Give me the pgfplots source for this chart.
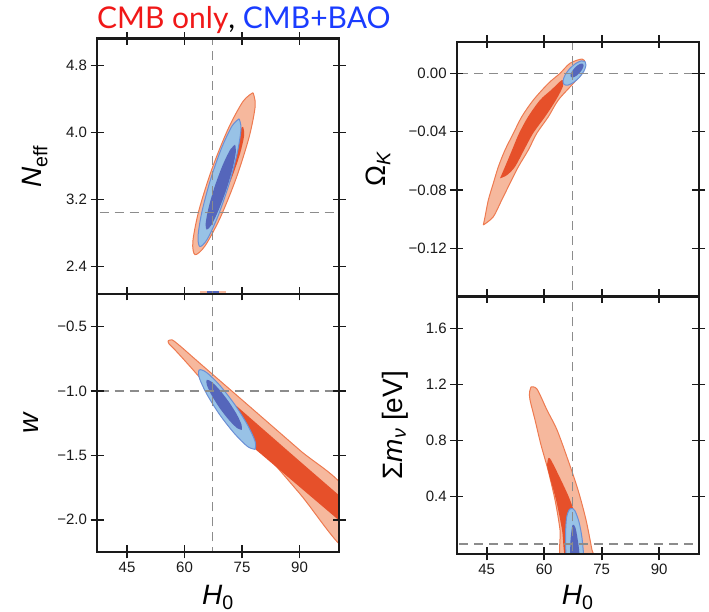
\documentclass[border=0pt]{standalone}
\usepackage{pgfplots}
\pgfplotsset{compat=1.18}
\usepackage{fontspec}
\setmainfont{Liberation Sans}
\newfontfamily\titlefont{Lato}
\definecolor{cmbout}{HTML}{F6B89D}
\definecolor{cmbedge}{HTML}{EE7A50}
\definecolor{cmbin}{HTML}{E6502A}
\definecolor{baoout}{HTML}{98C2E6}
\definecolor{baoedge}{HTML}{6A8FD6}
\definecolor{baoin}{HTML}{5566BB}
\definecolor{refgray}{HTML}{8C8C8C}
\definecolor{titlered}{HTML}{F01818}
\definecolor{titleblue}{HTML}{1A3CFF}
\definecolor{axisblack}{HTML}{1A1A1A}
\pgfplotsset{
 panel/.style={
   scale only axis, width=242pt, xmin=37.17, xmax=100.3,
   xtick={45,60,75,90}, axis on top,
   tick align=center, major tick length=13pt,
   tick style={line width=1.6pt, axisblack},
   axis line style={line width=2.3pt, axisblack},
   every outer x axis line/.append style={line width=2.3pt},
   every outer y axis line/.append style={line width=2.3pt},
   ticklabel style={font=\fontsize{15}{15}\selectfont, text=axisblack},
   label style={font=\fontsize{28}{30}\selectfont, inner sep=0pt},
   anchor=south west,
 },
 c95/.style={fill=cmbout, draw=cmbedge, line width=1pt, smooth},
 c68/.style={fill=cmbin, draw=none, smooth},
 b95/.style={fill=baoout, draw=baoedge, line width=1pt, smooth},
 b68/.style={fill=baoin, draw=none, smooth},
 ref/.style={refgray, line width=1.3pt, dash pattern=on 9pt off 6pt},
}
\begin{document}
\begin{tikzpicture}
\path[use as bounding box] (0pt,0pt) rectangle (709pt,612pt);
\node[anchor=base west, inner sep=0pt] at (97pt,583.7pt) {\titlefont\fontsize{30}{32}\selectfont\textcolor{titlered}{CMB only}, \textcolor{titleblue}{CMB+BAO}};

% ---------- N_eff ----------
\begin{axis}[panel, at={(97pt,318pt)}, height=255.4pt,
  ymin=2.07, ymax=5.12, ytick={2.4,3.2,4.0,4.8}, yticklabels={2.4,3.2,4.0,4.8},
  xticklabels={},
  ylabel={\itshape N\textsubscript{\upshape eff}},
  ylabel style={at={(axis description cs:-0.256,0.5)}, anchor=center}]
\addplot[c95] coordinates {(77.87,4.474) (78.45,4.318) (76.86,3.945) (73.49,3.454) (69.29,2.978) (65.35,2.644) (62.74,2.540) (62.17,2.696) (63.76,3.069) (67.12,3.559) (71.32,4.036) (75.26,4.370) (77.87,4.474)};
\addplot[c68] coordinates {(75.26,4.067) (75.58,3.971) (74.48,3.744) (72.26,3.448) (69.52,3.161) (66.99,2.960) (65.35,2.899) (65.04,2.995) (66.13,3.221) (68.35,3.518) (71.09,3.805) (73.62,4.006) (75.26,4.067)};
\addplot[b95] coordinates {(74.25,4.162) (74.74,4.043) (73.75,3.752) (71.51,3.366) (68.64,2.989) (65.90,2.722) (64.02,2.636) (63.52,2.756) (64.51,3.046) (66.76,3.433) (69.63,3.809) (72.39,4.076) (74.25,4.162)};
\addplot[b68] coordinates {(73.18,3.853) (73.41,3.774) (72.60,3.580) (70.96,3.323) (68.90,3.072) (67.02,2.894) (65.77,2.838) (65.53,2.917) (66.34,3.112) (67.98,3.368) (70.05,3.619) (71.95,3.796) (73.18,3.853)};
\addplot[fill=cmbout, draw=none] coordinates {(64.0,2.07) (70.8,2.07) (70.8,2.105) (64.0,2.105)};
\addplot[fill=baoin, draw=none] coordinates {(65.9,2.07) (69.0,2.07) (69.0,2.10) (65.9,2.10)};
\addplot[ref] coordinates {(67.3,2.0) (67.3,5.2)};
\addplot[ref] coordinates {(30,3.046) (105,3.046)};
\end{axis}

% ---------- w ----------
\begin{axis}[panel, at={(97pt,60pt)}, height=258.1pt,
  ymin=-2.25, ymax=-0.246, ytick={-2.0,-1.5,-1.0,-0.5}, yticklabels={−2.0,−1.5,−1.0,−0.5},
  xticklabels={45,60,75,90},
  ylabel={\itshape w},
  ylabel style={at={(axis description cs:-0.273,0.5)}, anchor=center},
  xlabel={\itshape H\textsubscript{\upshape 0}},
  xlabel style={at={(axis description cs:0.5,-0.175)}, anchor=center}]
\addplot[c95] coordinates {(55.70,-0.611) (56.74,-0.603) (58.83,-0.650) (64.05,-0.786) (77.09,-1.123) (90.13,-1.461) (101.87,-1.768) (101.87,-2.218) (90.13,-1.799) (77.09,-1.349) (64.05,-0.898) (60.13,-0.766) (57.52,-0.681) (55.96,-0.634) (55.70,-0.611)};
\addplot[c68] coordinates {(101.87,-1.850) (90.13,-1.547) (79.70,-1.276) (71.87,-1.074) (68.74,-1.011) (67.18,-1.054) (68.22,-1.131) (71.87,-1.286) (79.70,-1.483) (90.13,-1.747) (101.87,-2.044)};
\addplot[b95] coordinates {(78.42,-1.453) (78.42,-1.391) (76.45,-1.264) (73.07,-1.104) (69.17,-0.955) (65.79,-0.857) (63.86,-0.836) (63.86,-0.898) (65.83,-1.025) (69.21,-1.185) (73.11,-1.333) (76.49,-1.432) (78.42,-1.453)};
\addplot[b68] coordinates {(74.92,-1.302) (74.90,-1.264) (73.66,-1.183) (71.53,-1.083) (69.09,-0.989) (66.99,-0.927) (65.79,-0.914) (65.82,-0.952) (67.06,-1.032) (69.18,-1.133) (71.62,-1.226) (73.72,-1.288) (74.92,-1.302)};
\addplot[ref] coordinates {(67.3,-2.4) (67.3,-0.1)};
\addplot[ref] coordinates {(30,-1.0) (105,-1.0)};
\end{axis}

% ---------- Omega_K ----------
\begin{axis}[panel, at={(456.7pt,316pt)}, height=254.3pt,
  ymin=-0.1527, ymax=0.0217, ytick={-0.12,-0.08,-0.04,0}, yticklabels={−0.12,−0.08,−0.04,0.00},
  xticklabels={},
  ylabel={Ω\textsubscript{\itshape K}},
  ylabel style={at={(axis description cs:-0.325,0.5)}, anchor=center}]
\addplot[c95] coordinates {(44.11,-0.1040) (44.56,-0.0984) (45.42,-0.0869) (46.72,-0.0754) (48.03,-0.0641) (49.77,-0.0526) (51.94,-0.0412) (54.13,-0.0298) (57.16,-0.0183) (61.07,-0.0069) (64.12,0) (66.73,0.0069) (69.86,0.0098) (70.65,0.0069) (69.79,0) (67.59,-0.0069) (63.68,-0.0183) (61.07,-0.0298) (58.04,-0.0412) (55.85,-0.0526) (53.24,-0.0641) (51.08,-0.0754) (48.91,-0.0869) (46.72,-0.0984) (44.11,-0.1040)};
\addplot[c68] coordinates {(48.47,-0.0720) (49.77,-0.0641) (51.60,-0.0526) (53.43,-0.0412) (55.78,-0.0298) (58.91,-0.0183) (61.78,-0.0115) (64.65,-0.0046) (64.91,-0.0087) (63.08,-0.0183) (60.21,-0.0298) (57.08,-0.0412) (54.73,-0.0526) (52.38,-0.0641) (50.30,-0.0698) (48.47,-0.0720)};
\addplot[b95] coordinates {(70.63,0.0081) (70.89,0.0055) (70.35,0.0015) (69.16,-0.0028) (67.63,-0.0063) (66.17,-0.0081) (65.18,-0.0076) (64.92,-0.0051) (65.46,-0.0011) (66.65,0.0032) (68.18,0.0067) (69.64,0.0085) (70.63,0.0081)};
\addplot[b68] coordinates {(70.14,0.0065) (70.27,0.0051) (69.93,0.0028) (69.23,0.0003) (68.35,-0.0018) (67.53,-0.0028) (66.97,-0.0026) (66.85,-0.0012) (67.18,0.0010) (67.88,0.0035) (68.76,0.0056) (69.59,0.0067) (70.14,0.0065)};
\addplot[ref] coordinates {(67.3,-0.2) (67.3,0.05)};
\addplot[ref] coordinates {(30,0) (105,0)};
\end{axis}

% ---------- Sum m_nu ----------
\begin{axis}[panel, at={(456.7pt,58pt)}, height=257.3pt,
  ymin=-0.012, ymax=1.826, ytick={0.4,0.8,1.2,1.6}, yticklabels={0.4,0.8,1.2,1.6},
  xticklabels={45,60,75,90},
  ylabel={Σ\textit{m}\textsubscript{\itshape ν} [eV]},
  ylabel style={at={(axis description cs:-0.255,0.5)}, anchor=center},
  xlabel={\itshape H\textsubscript{\upshape 0}},
  xlabel style={at={(axis description cs:0.5,-0.168)}, anchor=center}]
\addplot[c95] coordinates {(56.56,1.181) (58.12,1.166) (60.73,1.016) (63.34,0.874) (66.21,0.659) (68.82,0.445) (70.91,0.231) (72.47,0.016) (72.99,-0.055) (64.65,-0.055) (64.12,0.159) (62.82,0.374) (60.99,0.588) (59.17,0.766) (57.60,0.945) (56.30,1.088) (56.17,1.145) (56.56,1.181)};
\addplot[c68] coordinates {(61.12,0.674) (61.78,0.659) (64.12,0.531) (66.73,0.374) (68.82,0.195) (70.12,-0.055) (65.69,-0.055) (64.65,0.159) (63.08,0.374) (61.51,0.531) (60.73,0.624) (61.12,0.674)};
\addplot[b95] coordinates {(65.69,-0.055) (65.56,0.124) (65.82,0.245) (66.47,0.302) (67.25,0.313) (68.04,0.295) (69.08,0.216) (69.86,0.102) (70.39,-0.055)};
\addplot[b68] coordinates {(66.73,-0.055) (66.86,0.088) (67.38,0.195) (68.17,0.174) (68.95,0.052) (69.34,-0.055)};
\addplot[ref] coordinates {(67.3,-0.1) (67.3,2.0)};
\addplot[ref] coordinates {(30,0.06) (105,0.06)};
\end{axis}
\end{tikzpicture}
\end{document}
